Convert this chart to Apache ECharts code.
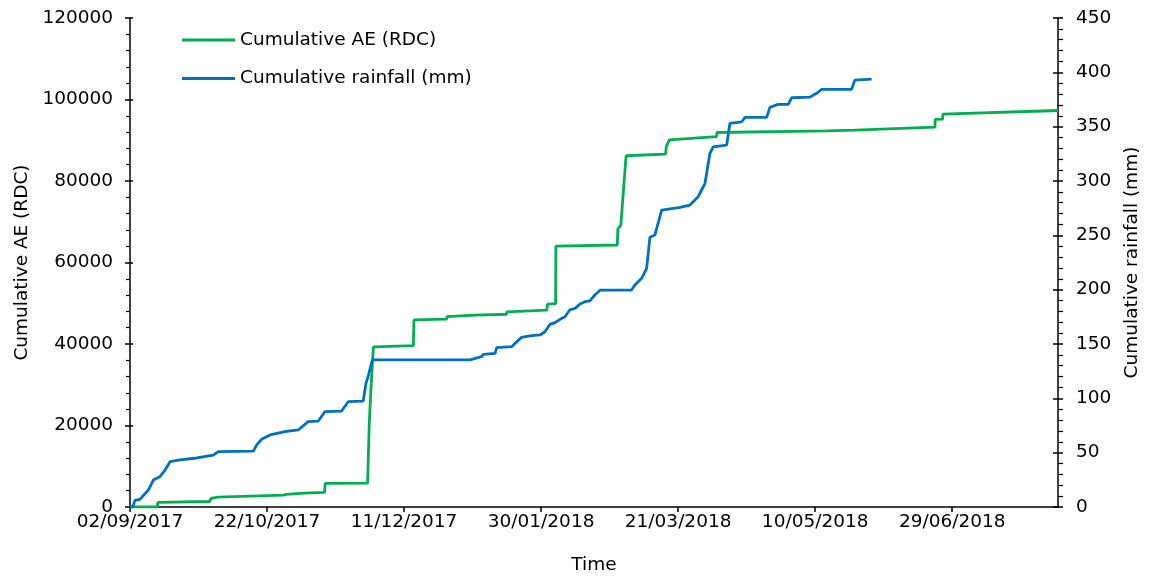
<!DOCTYPE html>
<html>
<head>
<meta charset="utf-8">
<script src="https://cdn.jsdelivr.net/npm/echarts@6/dist/echarts.min.js"></script>
<style>
  html, body { margin: 0; padding: 0; background: #fff; }
  #chart { width: 1150px; height: 577px; }
</style>
</head>
<body>
<div id="chart"></div>
<script>
// x values are days counted from the first date
const startDate = [2017, 8, 2]
const xMaxDay = 338.6

const aeDays = [0, 9.9, 10.2, 29, 29.6, 32, 56, 57, 63.5, 71, 71.2, 86.7, 87.3, 87.8, 88.8, 103.4, 103.6, 115.5, 115.7, 125.9,
  137.4, 137.5, 152.1, 152.3, 155.3, 155.4, 177.8, 178, 179.1, 181, 195.4, 195.7, 196.8, 214, 214.2, 254.2, 264.5, 264.7,
  293.7, 293.8, 296.5, 296.6, 338.6]
const aeValues = [0, 0, 1150, 1350, 2100, 2400, 2900, 3100, 3400, 3600, 5800, 5850, 20600, 27500, 39300, 39600, 45900, 46100, 46700, 47100,
  47300, 47900, 48300, 49800, 49900, 64000, 64300, 68200, 69200, 86200, 86600, 88500, 90100, 90900, 91900, 92300, 92500, 92800,
  93200, 95100, 95200, 96400, 97300]

const rainDays = [0, 1, 1.8, 3.6, 6.7, 8.5, 10.9, 12.8, 14.6, 17.6, 18.2, 24.3, 30.4, 32.2, 45, 46.2, 48, 51.1, 56.5, 61.4,
  65, 68.7, 71.1, 77.2, 79.6, 85.1, 86.1, 87.2, 88.4,
  124, 128.3, 128.9, 133.2, 133.8, 139.3, 140.5, 142.9, 145.9, 149.6, 151.4, 153.2, 155.1, 156.9, 158.7, 160.5, 162.4, 164.2,
  166, 167.8, 169.6, 171.5, 183,
  184.2, 186.7, 188.5, 189.7, 191.5, 194, 200.7, 204.3, 207.3, 209.8, 211.6, 212.8, 217.7, 218.9, 223.2, 224.4,
  232.3, 233.5, 236.5, 240.2, 241.4, 248.1, 250.5, 252.4, 263.3, 264.5, 270.6]
const rainValues = [0, 0, 6, 7, 15.6, 24.8, 27.9, 34, 41.7, 43.2, 44.8, 45.1, 47.8, 50.9, 51.5, 57, 62.3, 66.3, 69.3, 70.9,
  78.5, 79.1, 87.7, 88.3, 96.9, 97.5, 113.8, 123, 135.3,
  135.3, 138.3, 140.5, 141.4, 146.6, 147.5, 150.6, 156.2, 157.4, 158.3, 161.3, 168, 169.6, 172.7, 175.1, 181.5, 182.8, 186.8,
  188.9, 189.6, 195.1, 199.5, 199.7,
  204.3, 210.4, 219.6, 248.2, 250.3, 273.3, 275.8, 277.9, 285.5, 297.9, 325.5, 331.5, 333.1, 353.1, 354.5, 358.6,
  358.6, 367.8, 370.5, 370.5, 376.6, 377.2, 380.7, 384.4, 384.4, 392.9, 393.8]

const font = 'DejaVu Sans'
const fs = 18.5
const black = '#000'

function pad(n) {
  return n < 10 ? '0' + n : '' + n
}
function dayLabel(d) {
  if (Math.abs(d % 50) > 0.001) return ''
  const t = new Date(Date.UTC(startDate[0], startDate[1], startDate[2]) + d * 86400000)
  return pad(t.getUTCDate()) + '/' + pad(t.getUTCMonth() + 1) + '/' + t.getUTCFullYear()
}
function zip(xs, ys) {
  return xs.map((x, i) => [x, ys[i]])
}

const chart = echarts.init(document.getElementById('chart'))
const txt = { color: black, fontFamily: font, fontSize: fs }
const plain = v => String(v)

chart.setOption({
  animation: false,
  textStyle: { fontFamily: font },
  grid: { left: 130, right: 92, top: 18, bottom: 70, outerBoundsMode: 'none' },
  legend: {
    data: ['Cumulative AE (RDC)', 'Cumulative rainfall (mm)'],
    orient: 'vertical',
    left: 182,
    top: 30,
    padding: 0,
    icon: 'rect',
    itemWidth: 53,
    itemHeight: 3,
    itemGap: 18.5,
    textStyle: { color: black, fontFamily: font, fontSize: fs, lineHeight: 20 }
  },
  xAxis: {
    type: 'value',
    min: 0,
    max: xMaxDay,
    interval: 50,
    name: 'Time',
    nameLocation: 'middle',
    nameGap: 49,
    nameTextStyle: txt,
    axisLine: { show: true, lineStyle: { color: black, width: 1.5 } },
    axisTick: { show: true, length: 5, lineStyle: { color: black, width: 1.5 } },
    axisLabel: Object.assign({ margin: 6, showMaxLabel: false, formatter: dayLabel }, txt),
    splitLine: { show: false }
  },
  yAxis: [
    {
      type: 'value',
      position: 'left',
      min: 0,
      max: 120000,
      interval: 20000,
      name: 'Cumulative AE (RDC)',
      nameLocation: 'middle',
      nameRotate: 90,
      nameGap: 96,
      nameTextStyle: txt,
      axisLine: { show: true, lineStyle: { color: black, width: 1.5 } },
      axisTick: { show: true, length: 5, lineStyle: { color: black, width: 1.5 } },
      minorTick: { show: true, splitNumber: 5, length: 4, lineStyle: { color: black, width: 1.2 } },
      axisLabel: Object.assign({ margin: 17, formatter: plain }, txt),
      splitLine: { show: false }
    },
    {
      type: 'value',
      position: 'right',
      min: 0,
      max: 450,
      interval: 50,
      name: 'Cumulative rainfall (mm)',
      nameLocation: 'middle',
      nameRotate: 90,
      nameGap: 64,
      nameTextStyle: txt,
      axisLine: { show: true, lineStyle: { color: black, width: 1.5 } },
      axisTick: { show: true, length: 5, lineStyle: { color: black, width: 1.5 } },
      minorTick: { show: true, splitNumber: 5, length: 5, lineStyle: { color: black, width: 1.2 } },
      axisLabel: Object.assign({ margin: 18, formatter: plain }, txt),
      splitLine: { show: false }
    },
    // inner halves of the crossing major ticks
    {
      type: 'value',
      position: 'left',
      min: 0,
      max: 120000,
      interval: 20000,
      axisLine: { show: false },
      axisTick: { show: true, inside: true, length: 3, lineStyle: { color: black, width: 1.5 } },
      axisLabel: { show: false },
      splitLine: { show: false }
    },
    {
      type: 'value',
      position: 'right',
      min: 0,
      max: 450,
      interval: 50,
      axisLine: { show: false },
      axisTick: { show: true, inside: true, length: 5, lineStyle: { color: black, width: 1.5 } },
      axisLabel: { show: false },
      splitLine: { show: false }
    }
  ],
  series: [
    {
      name: 'Cumulative AE (RDC)',
      type: 'line',
      yAxisIndex: 0,
      symbol: 'none',
      color: '#00B050',
      lineStyle: { color: '#00B050', width: 2.8 },
      data: zip(aeDays, aeValues)
    },
    {
      name: 'Cumulative rainfall (mm)',
      type: 'line',
      yAxisIndex: 1,
      symbol: 'none',
      color: '#0070C0',
      lineStyle: { color: '#0070C0', width: 2.8 },
      data: zip(rainDays, rainValues)
    }
  ]
})
</script>
</body>
</html>
